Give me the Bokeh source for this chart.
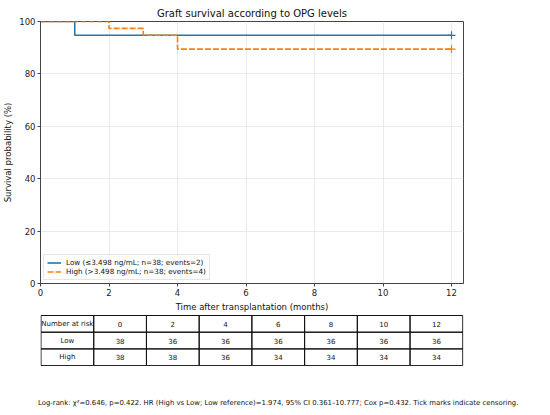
from bokeh.plotting import figure
from bokeh.layouts import column
from bokeh.models import Range1d, FixedTicker, Legend, LegendItem, Div
from bokeh.embed import file_html
from bokeh.resources import INLINE
from bokeh.core.properties import value

title_text = "Graft survival according to OPG levels"
x_label = "Time after transplantation (months)"
y_label = "Survival probability (%)"

low_times = [0, 1, 12]
low_surv = [100.0, 94.74, 94.74]
high_times = [0, 2, 3, 4, 12]
high_surv = [100.0, 97.37, 94.74, 89.47, 89.47]
censor_time = [12]
low_censor = [94.74]
high_censor = [89.47]
low_label = "Low (≤3.498 ng/mL; n=38; events=2)"
high_label = "High (>3.498 ng/mL; n=38; events=4)"

x_ticks = [0, 2, 4, 6, 8, 10, 12]
y_ticks = [0, 20, 40, 60, 80, 100]

risk_header = "Number at risk"
risk_times = [0, 2, 4, 6, 8, 10, 12]
risk_groups = ["Low", "High"]
risk_low = [38, 36, 36, 36, 36, 36, 36]
risk_high = [38, 38, 36, 34, 34, 34, 34]
footnote = ("Log-rank: χ²=0.646, p=0.422. HR (High vs Low; Low reference)=1.974, "
            "95% CI 0.361–10.777; Cox p=0.432. Tick marks indicate censoring.")

FONT = "DejaVu Sans"
BLUE = "#1f77b4"
ORANGE = "#ff7f0e"
SPINE = "#444444"

W = 550
B_LEFT, B_RIGHT = 40, 87

p = figure(width=W, height=314,
           x_range=Range1d(0, 12.35), y_range=Range1d(0, 100),
           output_backend="svg", toolbar_location=None,
           min_border_left=B_LEFT, min_border_right=B_RIGHT,
           min_border_top=21, min_border_bottom=28)
p.title.text = title_text
p.title.align = "center"
p.title.text_font = FONT
p.title.text_font_size = "10px"
p.title.text_font_style = "normal"
p.title.text_color = "#111111"
p.title.standoff = 6
p.outline_line_color = SPINE
p.outline_line_width = 1

for ax in (p.xaxis[0], p.yaxis[0]):
    ax.axis_line_color = SPINE
    ax.major_tick_line_color = SPINE
    ax.minor_tick_line_color = None
    ax.major_tick_out = 3
    ax.major_tick_in = 0
    ax.major_label_text_font = FONT
    ax.major_label_text_font_size = "8.5px"
    ax.major_label_text_color = "#222222"
    ax.major_label_standoff = 2
    ax.axis_label_text_font = FONT
    ax.axis_label_text_font_size = "8.5px"
    ax.axis_label_text_font_style = "normal"
    ax.axis_label_text_color = "#111111"
    ax.axis_label_standoff = 3
p.xaxis[0].ticker = FixedTicker(ticks=x_ticks)
p.yaxis[0].ticker = FixedTicker(ticks=y_ticks)
p.xaxis[0].axis_label = x_label
p.yaxis[0].axis_label = y_label
p.xgrid[0].ticker = FixedTicker(ticks=x_ticks)
p.ygrid[0].ticker = FixedTicker(ticks=y_ticks)
p.grid.grid_line_color = "#e4e4e4"
p.grid.grid_line_width = 0.8

r_low = p.step(low_times, low_surv, mode="after", line_color=BLUE, line_width=1.6)
r_high = p.step(high_times, high_surv, mode="after", line_color=ORANGE,
                line_width=1.6, line_dash="6 2")
p.scatter(censor_time, low_censor, marker="cross", size=8, line_color=BLUE, line_width=1.2)
p.scatter(censor_time, high_censor, marker="cross", size=8, line_color=ORANGE, line_width=1.2)

legend = Legend(items=[LegendItem(label=low_label, renderers=[r_low]),
                       LegendItem(label=high_label, renderers=[r_high])],
                location="bottom_left")
legend.margin = 3
legend.padding = 3
legend.spacing = 0
legend.glyph_width = 14
legend.glyph_height = 9
legend.label_height = 9
legend.label_standoff = 5
legend.label_text_font = FONT
legend.label_text_font_size = "7.2px"
legend.label_text_color = "#111111"
legend.border_line_color = "#cccccc"
legend.background_fill_alpha = 0.85
p.add_layout(legend)

# Number-at-risk table: x in page pixels (frame spans 40..463), y downward
TH = 52
t = figure(width=W, height=TH, x_range=Range1d(B_LEFT, W - B_RIGHT), y_range=Range1d(TH, 0),
           output_backend="svg", toolbar_location=None,
           min_border_left=B_LEFT, min_border_right=B_RIGHT,
           min_border_top=0, min_border_bottom=0,
           x_axis_location=None, y_axis_location=None)
t.outline_line_color = None
t.grid.visible = False
t.title.standoff = 0

tab_left, col_w, tab_top, row_h = 40.5, 52.72, 1, 16.7
rows = [[risk_header] + [str(v) for v in risk_times],
        [risk_groups[0]] + [str(v) for v in risk_low],
        [risk_groups[1]] + [str(v) for v in risk_high]]
lefts, rights, tops, bottoms, xs, ys, txt = [], [], [], [], [], [], []
for i, row in enumerate(rows):
    for j, cell in enumerate(row):
        l = tab_left + j * col_w
        tp = tab_top + i * row_h
        lefts.append(l); rights.append(l + col_w)
        tops.append(tp); bottoms.append(tp + row_h)
        xs.append(l + col_w / 2); ys.append(tp + row_h / 2); txt.append(cell)
t.quad(left=lefts, right=rights, top=tops, bottom=bottoms,
       fill_color=None, line_color="#111111", line_width=1)
t.text(x=xs, y=ys, text=txt, text_font=value(FONT), text_font_size="7px",
       text_align="center", text_baseline="middle", text_color="#111111")

note = Div(text=footnote, width=W, height=47, margin=0,
           styles={"font-family": FONT, "font-size": "6.9px", "color": "#111111",
                   "text-align": "left", "white-space": "nowrap", "padding-left": "38px",
                   "padding-top": "33px", "line-height": "8px", "box-sizing": "border-box"})

layout = column(p, t, note, spacing=0)
open("out.html", "w").write(file_html(layout, INLINE))
